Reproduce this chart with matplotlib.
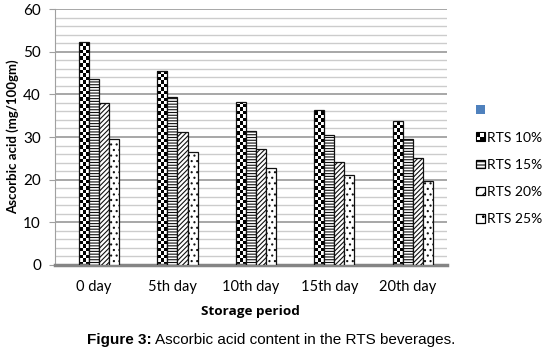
import numpy as np
import matplotlib
matplotlib.use("Agg")
import matplotlib.pyplot as plt
import matplotlib.patches as patches
from matplotlib.legend_handler import HandlerBase

# data
days = ["0 day", "5th day", "10th day", "15th day", "20th day"]
series = ["", "RTS 10%", "RTS 15%", "RTS 20%", "RTS 25%"]
rts10 = [52.4, 45.4, 38.3, 36.3, 33.7]
rts15 = [43.5, 39.5, 31.5, 30.5, 29.6]
rts20 = [37.9, 31.1, 27.1, 24.2, 25.1]
rts25 = [29.5, 26.6, 22.8, 21.0, 19.6]
values = [None, rts10, rts15, rts20, rts25]

hatches = [None, "check", "------", "///////", "..."]

plt.rcParams["font.family"] = ["Lato", "DejaVu Sans"]
plt.rcParams["hatch.linewidth"] = 0.8

fig = plt.figure(figsize=(5.43, 3.5), dpi=100)
ax = fig.add_axes([0.101, 0.243, 0.722, 0.731])

w = 0.128
x = np.arange(len(days))
cell = 0.8  # checker cell height in data units

for j in range(1, 5):
    xs = x + (j - 2) * w
    h = hatches[j]
    if h == "check":
        bars = ax.bar(xs, values[j], w, facecolor="none", edgecolor="#111111",
                      linewidth=0.9, zorder=3)
        for b in bars:
            x0 = b.get_x()
            ht = b.get_height()
            nrows = int(np.ceil(ht / cell))
            img = (np.add.outer(np.arange(nrows), np.arange(3)) % 2).astype(float)
            im = ax.imshow(img, cmap="gray", vmin=0, vmax=1, origin="lower",
                           extent=(x0, x0 + w, 0, nrows * cell), aspect="auto",
                           interpolation="nearest", zorder=2)
            im.set_clip_path(b)
    else:
        ax.bar(xs, values[j], w, facecolor="white", edgecolor="#111111",
               linewidth=0.9, hatch=h, zorder=3)

ax.set_xlim(-0.5, 4.5)
ax.set_ylim(0, 60)
ax.set_yticks(range(0, 61, 10))
ax.set_yticks(range(0, 61, 2), minor=True)
ax.grid(axis="y", which="minor", color="#CCCCCC", linewidth=1.0, zorder=0)
ax.grid(axis="y", which="major", color="#A0A0A0", linewidth=1.3, zorder=0)
ax.set_axisbelow(True)
ax.set_xticks(x)
ax.set_xticklabels(days, fontsize=10.5)
ax.tick_params(axis="x", length=0, pad=11)
ax.tick_params(axis="y", which="major", length=4, color="#A0A0A0", labelsize=11, pad=6)
ax.tick_params(axis="y", which="minor", length=0)
for s in ["top", "right"]:
    ax.spines[s].set_visible(False)
ax.spines["left"].set_color("#A0A0A0")
ax.spines["bottom"].set_color("#858585")
ax.spines["bottom"].set_linewidth(2.5)

ax.set_ylabel("Ascorbic acid (mg/100gm)", fontsize=9.5, fontweight="bold", labelpad=3)
ax.set_xlabel("Storage period", fontsize=9.7, fontweight="bold", labelpad=8,
              family="Open Sans")


class SwatchHandler(HandlerBase):
    def __init__(self, kind):
        super().__init__()
        self.kind = kind

    def create_artists(self, legend, orig_handle, xd, yd, width, height, fontsize, trans):
        s = min(width, height)
        ox, oy = -xd, -yd + (height - s) / 2
        arts = []
        if self.kind == "blue":
            arts.append(patches.Rectangle((ox, oy), s, s, facecolor="#4F81BD",
                                          edgecolor="none", transform=trans))
            return arts
        if self.kind == "check":
            arts.append(patches.Rectangle((ox, oy), s, s, facecolor="black",
                                          edgecolor="black", lw=0.8, transform=trans))
            arts.append(patches.Rectangle((ox + s * 0.5, oy + s * 0.5), s * 0.4, s * 0.4,
                                          facecolor="white", edgecolor="none", transform=trans))
            arts.append(patches.Rectangle((ox + s * 0.1, oy + s * 0.1), s * 0.4, s * 0.4,
                                          facecolor="white", edgecolor="none", transform=trans))
            return arts
        arts.append(patches.Rectangle((ox, oy), s, s, facecolor="white", edgecolor="black",
                                      lw=0.9, hatch=self.kind, transform=trans))
        return arts


handles = [patches.Rectangle((0, 0), 1, 1) for _ in series]
kinds = ["blue", "check", "-----", "///", ".."]
hmap = {h: SwatchHandler(k) for h, k in zip(handles, kinds)}
fig.legend(handles, series, handler_map=hmap, loc="upper left",
           bbox_to_anchor=(0.864, 0.722), frameon=False, fontsize=10,
           handlelength=0.62, handleheight=0.62, handletextpad=0.2,
           labelspacing=1.1, borderpad=0)

t1 = fig.text(0.16, 0.008, "Figure 3:", fontsize=11, fontweight="bold",
              family="Liberation Sans", ha="left", va="bottom")
t2 = fig.text(0.3, 0.008, "Ascorbic acid content in the RTS beverages.",
              fontsize=11, family="Liberation Sans", ha="left", va="bottom")
fig.canvas.draw()
b1 = t1.get_window_extent()
b2 = t2.get_window_extent()
gap = 4
total = b1.width + gap + b2.width
start = 271 - total / 2
t1.set_x(start / fig.bbox.width)
t2.set_x((start + b1.width + gap) / fig.bbox.width)

fig.savefig("out.png", dpi=100)
